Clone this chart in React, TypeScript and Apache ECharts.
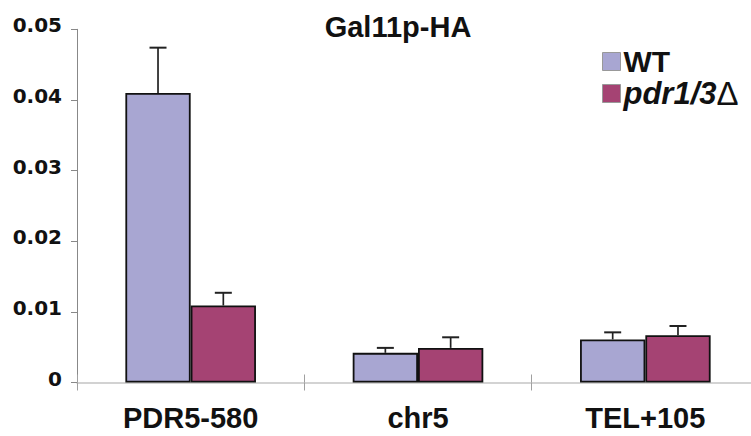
import React, { useEffect, useRef } from 'react';
import * as echarts from 'echarts';

const categories = ['PDR5-580', 'chr5', 'TEL+105'];
const wtValues = [0.041, 0.0042, 0.0061];
const wtErrors = [0.0064, 0.0007, 0.001];
const pdrValues = [0.0109, 0.0049, 0.0067];
const pdrErrors = [0.0018, 0.0015, 0.0013];
const seriesNames = ['WT', 'pdr1/3Δ'];
const yMin = 0;
const yMax = 0.05;
const yInterval = 0.01;

const BAR_W = 65.3;
const WT_COLOR = '#a8a6d2';
const PDR_COLOR = '#a54373';

export default function App() {
  const ref = useRef<HTMLDivElement>(null);
  useEffect(() => {
    document.body.style.margin = '0';
    const chart = echarts.init(ref.current!, null, { renderer: 'svg' });

    const errSeries = (name: string, values: number[], errors: number[], sign: number) => ({
      type: 'custom',
      name,
      xAxisIndex: 0,
      yAxisIndex: 0,
      z: 5,
      silent: true,
      data: values.map((v, i) => [i, v, v + errors[i]]),
      encode: { x: 0, y: [1, 2] },
      renderItem: (params: any, api: any) => {
        const base = api.coord([api.value(0), api.value(1)]);
        const top = api.coord([api.value(0), api.value(2)]);
        const x = base[0] + (sign * BAR_W) / 2;
        return {
          type: 'group',
          children: [
            { type: 'line', shape: { x1: x, y1: base[1], x2: x, y2: top[1] }, style: { stroke: '#222', lineWidth: 1.7 } },
            { type: 'line', shape: { x1: x - 8.5, y1: top[1], x2: x + 8.5, y2: top[1] }, style: { stroke: '#222', lineWidth: 2 } },
          ],
        };
      },
    });

    const yCommon = {
      type: 'value',
      min: yMin,
      max: yMax,
      interval: yInterval,
      splitLine: { show: false },
    };
    const xCommon = {
      type: 'category',
      data: categories,
      position: 'bottom',
    };

    chart.setOption({
      animation: false,
      backgroundColor: '#ffffff',
      title: {
        text: 'Gal11p-HA',
        left: 398,
        top: 12,
        padding: 0,
        textAlign: 'center',
        textStyle: { fontFamily: 'Liberation Sans', fontWeight: 'bold', fontSize: 29, color: '#111' },
      },
      legend: {
        data: seriesNames,
        orient: 'vertical',
        left: 602,
        top: 46,
        padding: 0,
        itemGap: 0,
        itemWidth: 18,
        itemHeight: 18,
        icon: 'rect',
        itemStyle: { borderColor: '#999', borderWidth: 1 },
        formatter: (name: string) => (name === 'WT' ? 'WT' : '{i|pdr1/3}{d|Δ}'),
        textStyle: {
          fontFamily: 'Liberation Sans',
          fontWeight: 'bold',
          fontSize: 30,
          lineHeight: 31,
          color: '#111',
          padding: [0, 0, 0, -2],
          rich: {
            i: { fontFamily: 'Liberation Sans', fontWeight: 'bold', fontStyle: 'italic', fontSize: 31, lineHeight: 31, color: '#111' },
            d: { fontFamily: 'Liberation Sans', fontWeight: 'normal', fontSize: 33, lineHeight: 31, color: '#111' },
          },
        },
      },
      grid: { left: 77, top: 29.3, bottom: 53.5, right: -8, outerBoundsMode: 'none', containLabel: false },
      xAxis: [
        {
          ...xCommon,
          axisLine: { show: true, lineStyle: { color: '#c4c4c4', width: 1.5 } },
          axisTick: { show: true, inside: false, length: 8, lineStyle: { color: '#a0a0a0', width: 1 } },
          axisLabel: {
            margin: 21,
            fontFamily: 'Liberation Sans',
            fontWeight: 'bold',
            fontSize: 29,
            color: '#111',
          },
        },
        {
          ...xCommon,
          axisLine: { show: false },
          axisTick: { show: true, inside: true, length: 8, lineStyle: { color: '#a0a0a0', width: 1 } },
          axisLabel: { show: false },
        },
      ],
      yAxis: [
        {
          ...yCommon,
          axisLine: { show: true, lineStyle: { color: '#888', width: 1 } },
          axisTick: { show: true, inside: false, length: 6, lineStyle: { color: '#888', width: 1 } },
          axisLabel: {
            margin: 15,
            fontFamily: 'DejaVu Sans',
            fontWeight: 'bold',
            fontSize: 20,
            color: '#111',
            verticalAlign: 'bottom',
            lineHeight: 8,
          },
        },
        {
          ...yCommon,
          axisLine: { show: false },
          axisTick: { show: true, inside: true, length: 6, lineStyle: { color: '#888', width: 1 } },
          axisLabel: { show: false },
        },
      ],
      series: [
        {
          name: seriesNames[0],
          type: 'bar',
          xAxisIndex: 0,
          yAxisIndex: 0,
          data: wtValues,
          barWidth: BAR_W,
          barGap: '0%',
          itemStyle: { color: WT_COLOR, borderColor: '#111', borderWidth: 1.8 },
        },
        {
          name: seriesNames[1],
          type: 'bar',
          xAxisIndex: 0,
          yAxisIndex: 0,
          data: pdrValues,
          barWidth: BAR_W,
          barGap: '0%',
          itemStyle: { color: PDR_COLOR, borderColor: '#111', borderWidth: 1.8 },
        },
        errSeries('WT-err', wtValues, wtErrors, -1),
        errSeries('pdr-err', pdrValues, pdrErrors, 1),
      ],
    });
    return () => chart.dispose();
  }, []);
  return <div ref={ref} style={{ position: 'fixed', left: 0, top: 0, width: 751, height: 436 }} />;
}
